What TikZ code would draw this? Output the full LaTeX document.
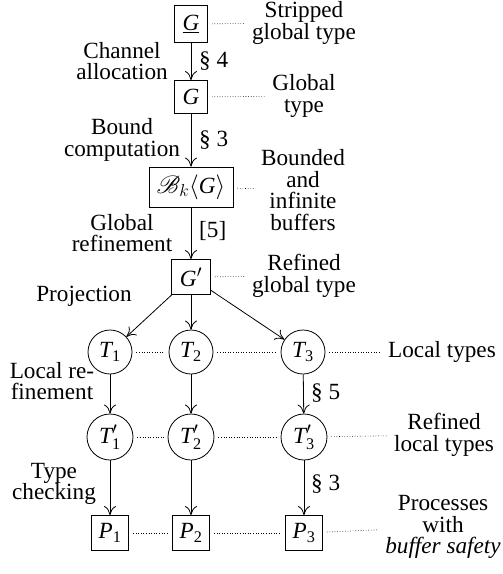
\documentclass[tikz,border=0pt]{standalone}
\usepackage{fontspec}
\setmainfont{Liberation Serif}
\usepackage{mathrsfs}
\usetikzlibrary{arrows.meta}
\newcommand\vT[1]{\ensuremath{\mathit{T}_{\mathrm{#1}}}}
\newcommand\vTp[1]{\ensuremath{\mathit{T}'_{\mathrm{#1}}}}
\newcommand\vP[1]{\ensuremath{\mathit{P}_{\mathrm{#1}}}}
\begin{document}
\begin{tikzpicture}[x=1pt,y=-1pt,
  font=\fontsize{23.2}{21.5}\selectfont,
  bx/.style={draw, line width=0.8pt, inner sep=3pt, minimum width=35pt, minimum height=35pt},
  circ/.style={draw, circle, line width=0.8pt, inner sep=0pt, minimum size=44pt},
  circp/.style={circ, minimum size=46pt},
  lab/.style={align=center, inner sep=3pt},
  dots/.style={dotted, line width=0.6pt, shorten <=4pt, shorten >=4pt},
  arr/.style={-{To[length=9pt,width=12pt]}, line width=0.8pt}]
\useasboundingbox (0,0) rectangle (503,574);
% main column
\node[bx, minimum width=33pt, minimum height=37pt] (Gs) at (191,24) {\underline{\textit{G}}};
\node[bx, minimum width=33pt, minimum height=33pt] (G) at (191,97) {\textit{G}};
\node[bx, minimum width=84pt, minimum height=40pt] (B) at (191,187) {$\mathscr{B}_k\langle\mathit{G}\rangle$};
\node[bx, minimum width=39pt, minimum height=35pt] (Gp) at (191,277) {$\mathit{G}'$};
\node[circ] (T1) at (110,352) {\vT1};
\node[circ] (T2) at (191,352) {\vT2};
\node[circ] (T3) at (303,352) {\vT3};
\node[circp] (U1) at (110,437) {\vTp1};
\node[circp] (U2) at (191,437) {\vTp2};
\node[circp] (U3) at (304,437) {\vTp3};
\node[bx, minimum width=37pt] (P1) at (110,533) {\vP1};
\node[bx, minimum width=37pt] (P2) at (191,533) {\vP2};
\node[bx, minimum width=37pt] (P3) at (304,533) {\vP3};
% right labels
\node[lab] (L1) at (304,23) {Stripped\\global type};
\node[lab] (L2) at (304,96) {Global\\type};
\node[lab] (L3) at (303,190) {Bounded\\and\\infinite\\buffers};
\node[lab] (L4) at (304,276) {Refined\\global type};
\node[lab] (L5) at (442,352) {Local types};
\node[lab] (L6) at (444,435) {Refined\\local types};
\node[lab] (L7) at (443,527) {Processes\\with\\\textit{buffer safety}};
% dotted lines
\draw[dots] (Gs) -- (L1);
\draw[dots] (G) -- (L2);
\draw[dots] (B) -- (L3);
\draw[dots] (Gp) -- (L4);
\draw[dots] (T1) -- (T2);
\draw[dots] (T2) -- (T3);
\draw[dots] (T3) -- (L5);
\draw[dots] (U1) -- (U2);
\draw[dots] (U2) -- (U3);
\draw[dots] (U3) -- (L6);
\draw[dots] (P1) -- (P2);
\draw[dots] (P2) -- (P3);
\draw[dots] (P3) -- (L7);
% arrows
\draw[arr] (Gs) -- (G);
\draw[arr] (G) -- (B);
\draw[arr] (B) -- (Gp);
\draw[arr] (Gp) -- (T1);
\draw[arr] (Gp) -- (T2);
\draw[arr] (Gp) -- (T3);
\draw[arr] (T1) -- (U1);
\draw[arr] (T2) -- (U2);
\draw[arr] (T3) -- (U3);
\draw[arr] (U1) -- (P1);
\draw[arr] (U2) -- (P2);
\draw[arr] (U3) -- (P3);
% left labels
\node[lab] (a1) at (122,61) {Channel\\allocation};
\node[lab] (a2) at (122,140) {Bound\\computation};
\node[lab] (a3) at (122,233) {Global\\refinement};
\node[lab] (a4) at (84,296) {Projection};
\node[lab] (a5) at (52,381) {Local re-\\finement};
\node[lab] (a6) at (54,484) {Type\\checking};
% section labels
\node[anchor=west, inner sep=2pt] (s1) at (197,61) {§ 4};
\node[anchor=west, inner sep=2pt] (s2) at (197,140) {§ 3};
\node[anchor=west, inner sep=2pt] (s3) at (197,231) {[5]};
\node[anchor=west, inner sep=2pt] (s4) at (309,393) {§ 5};
\node[anchor=west, inner sep=2pt] (s5) at (309,484) {§ 3};
\end{tikzpicture}
\end{document}
